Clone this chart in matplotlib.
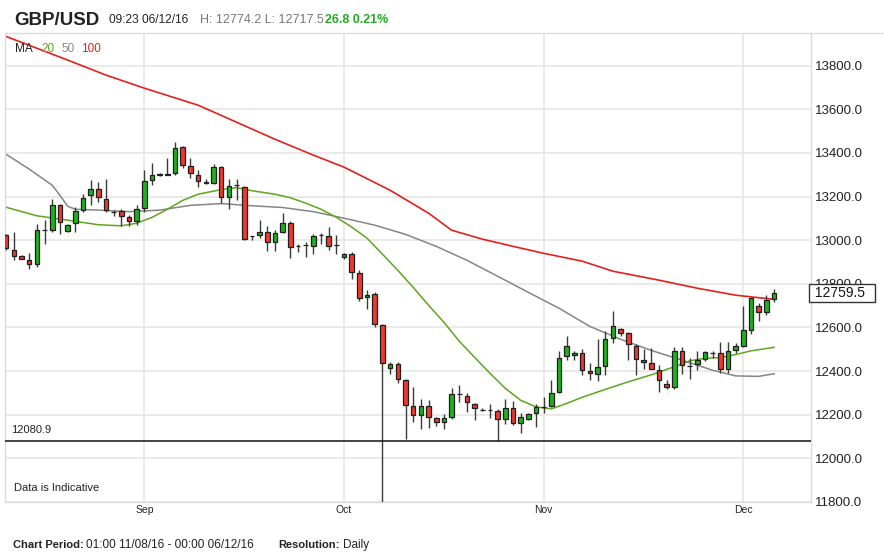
import matplotlib
matplotlib.use("Agg")
import matplotlib.pyplot as plt
import matplotlib.transforms as mtransforms
import numpy as np
import pandas as pd

plt.rcParams["font.family"] = ["Liberation Sans", "DejaVu Sans"]

# ---- data ---------------------------------------------------------------
# daily candles 11/08/16 .. 06/12/16 (Saturdays have no candle)
dates = [d for d in pd.date_range("2016-08-11", "2016-12-06") if d.dayofweek != 5]

opens = [13023, 12957, 12928, 12908, 12890, 13046, 13046, 13160, 13043, 13079,
         13137, 13206, 13233, 13188, 13131, 13133, 13107, 13087, 13150, 13278,
         13300, 13300, 13306, 13428, 13339, 13301, 13266, 13263, 13336, 13196,
         13252, 13244, 13020, 13026, 13038, 12992, 13038, 13079, 12975, 12976,
         12974, 13022, 13020, 12978, 12921, 12936, 12850, 12740, 12752, 12613,
         12414, 12434, 12358, 12240, 12200, 12238, 12185, 12167, 12189, 12293,
         12286, 12251, 12224, 12223, 12217, 12182, 12233, 12162, 12182, 12208,
         12234, 12238, 12304, 12469, 12472, 12485, 12399, 12389, 12422, 12554,
         12592, 12577, 12515, 12450, 12437, 12407, 12343, 12325, 12491, 12424,
         12431, 12454, 12482, 12483, 12411, 12495, 12515, 12587, 12698, 12671,
         12732.7]
highs = [13030, 13038, 12932, 12940, 13073, 13092, 13187, 13165, 13075, 13153,
         13214, 13275, 13265, 13280, 13140, 13142, 13115, 13160, 13321, 13355,
         13310, 13375, 13451, 13432, 13375, 13321, 13280, 13349, 13340, 13280,
         13280, 13250, 13021, 13092, 13064, 13049, 13124, 13087, 12981, 12990,
         13027, 13035, 13061, 13026, 12943, 12946, 12862, 12774, 12763, 12615,
         12442, 12442, 12366, 12327, 12274, 12266, 12190, 12205, 12324, 12335,
         12300, 12255, 12230, 12251, 12225, 12274, 12265, 12208, 12210, 12248,
         12281, 12358, 12492, 12560, 12490, 12500, 12437, 12545, 12584, 12674,
         12598, 12580, 12526, 12503, 12505, 12427, 12358, 12510, 12510, 12462,
         12492, 12492, 12494, 12533, 12533, 12530, 12697, 12737, 12710, 12748,
         12774.2]
lows = [12955, 12908, 12912, 12870, 12877, 12982, 13040, 13027, 13038, 13038,
        13130, 13160, 13174, 13130, 13110, 13064, 13064, 13069, 13130, 13255,
        13295, 13297, 13301, 13329, 13286, 13244, 13258, 13260, 13171, 13142,
        13183, 13000, 13000, 13012, 12950, 12950, 13032, 12919, 12946, 12921,
        12939, 12982, 12957, 12939, 12914, 12820, 12722, 12687, 12602, 11780,
        12389, 12347, 12090, 12167, 12136, 12140, 12147, 12136, 12182, 12258,
        12212, 12174, 12218, 12187, 12080.9, 12159, 12155, 12116, 12175, 12144,
        12208, 12235, 12300, 12453, 12450, 12380, 12361, 12355, 12381, 12529,
        12560, 12450, 12384, 12411, 12408, 12304, 12318, 12320, 12385, 12362,
        12404, 12445, 12460, 12391, 12391, 12485, 12510, 12572, 12628, 12659,
        12717.5]
closes = [12963, 12928, 12916, 12893, 13046, 13048, 13160, 13084, 13069, 13134,
          13195, 13233, 13196, 13137, 13129, 13111, 13087, 13145, 13272, 13298,
          13302, 13303, 13425, 13344, 13306, 13272, 13264, 13336, 13199, 13249,
          13254, 13005, 13020, 13038, 12992, 13033, 13079, 12969, 12973, 12978,
          13020, 13024, 12974, 12976, 12936, 12855, 12737, 12750, 12615, 12437,
          12434, 12366, 12246, 12200, 12240, 12189, 12167, 12186, 12294, 12295,
          12258, 12233, 12222, 12222, 12182, 12233, 12162, 12189, 12205, 12235,
          12236, 12301, 12462, 12515, 12485, 12404, 12391, 12417, 12549, 12607,
          12577, 12523, 12454, 12442, 12411, 12358, 12327, 12491, 12427, 12422,
          12450, 12488, 12484, 12411, 12491, 12514, 12587, 12733, 12671, 12725,
          12759.5]

# moving averages (candle index, value)
ma20_idx = [0, 4, 8, 12, 15, 17, 19, 21, 23, 25, 28, 30, 32, 35, 37, 39, 41, 43,
            45, 47, 49, 51, 53, 55, 57, 59, 61, 63, 65, 67, 69, 71, 73, 75, 78,
            81, 84, 87, 89, 91, 93, 95, 97, 100]
ma20_val = [13151, 13112, 13092, 13071, 13066, 13078, 13105, 13142, 13183, 13211,
            13232, 13241, 13227, 13211, 13195, 13170, 13142, 13105, 13060, 13009,
            12936, 12862, 12784, 12702, 12624, 12537, 12463, 12390, 12321, 12266,
            12236, 12227, 12252, 12280, 12316, 12351, 12383, 12420, 12447, 12459,
            12462, 12476, 12493, 12509]
ma50_idx = [0, 3, 6, 7, 8, 9, 12, 16, 20, 24, 28, 32, 36, 40, 44, 48, 52, 56,
            60, 64, 68, 72, 76, 80, 84, 88, 92, 95, 98, 100]
ma50_val = [13394, 13326, 13252, 13206, 13156, 13142, 13138, 13131, 13138, 13160,
            13168, 13158, 13150, 13131, 13101, 13069, 13027, 12972, 12908, 12835,
            12761, 12688, 12605, 12546, 12495, 12450, 12404, 12378, 12376, 12388]
ma100_idx = [0, 8, 13, 18, 25, 35, 40, 44, 50, 55, 58, 62, 66, 70, 75, 79, 85,
             90, 95, 100]
ma100_val = [13934, 13826, 13757, 13697, 13619, 13463, 13390, 13335, 13229, 13124,
             13046, 13005, 12972, 12940, 12904, 12858, 12817, 12780, 12748, 12729]

low_line = 12080.9
last_price = 12759.5
y_ticks = [11800, 12000, 12200, 12400, 12600, 12800, 13000, 13200, 13400, 13600, 13800]

# ---- figure -------------------------------------------------------------
W, H = 884, 559
fig = plt.figure(figsize=(W / 100, H / 100), dpi=100)
fig.patch.set_facecolor("white")


def px(x, y):
    return x / W, 1 - y / H


l, b = px(5, 502)
r, t = px(811, 33)
ax = fig.add_axes([l, b, r - l, t - b])

x = np.arange(len(dates))
month_pos = [i for i in range(1, len(dates)) if dates[i].month != dates[i - 1].month]
month_lab = [dates[i].strftime("%b") for i in month_pos]

GREEN = "#1db21d"
RED = "#f0382c"
opens_a, closes_a = np.array(opens), np.array(closes)
up = closes_a >= opens_a

ax.vlines(x, lows, highs, color="#3a3a3a", linewidth=1.0, zorder=3)
ax.bar(x, np.abs(closes_a - opens_a), bottom=np.minimum(opens_a, closes_a),
       width=0.6, color=np.where(up, GREEN, RED), edgecolor="#1e1e1e",
       linewidth=0.9, zorder=4)

ax.plot(ma100_idx, ma100_val, color="#e3201c", linewidth=1.2, zorder=2)
ax.plot(ma50_idx, ma50_val, color="#858585", linewidth=1.1, zorder=2)
ax.plot(ma20_idx, ma20_val, color="#5ea61e", linewidth=1.1, zorder=2)

ax.axhline(low_line, color="#111111", linewidth=1.1, zorder=5)
ax.text(0.7, low_line + 25, f"{low_line:.1f}", fontsize=8, color="#222222",
        va="bottom", ha="left")

ax.set_xlim(-0.15, 104.8)
ax.set_ylim(11800, 13950)
ax.set_yticks(y_ticks)
ax.set_yticklabels([f"{v:.1f}" for v in y_ticks])
ax.yaxis.tick_right()
ax.set_xticks(month_pos)
ax.set_xticklabels(month_lab)
ax.tick_params(axis="y", length=0, pad=3, labelsize=9.5, labelcolor="#222222")
ax.tick_params(axis="x", length=0, pad=2, labelsize=7.5, labelcolor="#222222")
ax.grid(True, color="#e6e6e6", linewidth=1.2, zorder=0)
ax.set_axisbelow(True)
for side, sp in ax.spines.items():
    sp.set_color("#dcdcdc")
    sp.set_linewidth(1.0)
ax.spines["top"].set_visible(False)

# last price box
trans = mtransforms.blended_transform_factory(ax.transAxes, ax.transData)
ax.text(1.0, last_price, f" {last_price:.1f}  ", transform=trans, fontsize=10,
        va="center", ha="left", color="#111111", zorder=10, clip_on=False,
        bbox=dict(boxstyle="square,pad=0.15", facecolor="white",
                  edgecolor="#333333", linewidth=1.0))

ax.text(0.011, 0.02, "Data is Indicative", transform=ax.transAxes, fontsize=8,
        color="#222222", va="bottom", ha="left")

# header
fig.add_artist(plt.Line2D([5 / W, 1], [1 - 33 / H] * 2, color="#dcdcdc",
                          linewidth=1.0, transform=fig.transFigure))
fig.text(*px(14, 25), "GBP/USD", fontsize=13.5, fontweight="bold", color="#222222")
fig.text(*px(109, 23), "09:23 06/12/16", fontsize=8.6, color="#222222")
fig.text(*px(200, 23), "H: 12774.2 L: 12717.5", fontsize=9, color="#777777")
fig.text(*px(325, 23), "26.8 0.21%", fontsize=9, fontweight="bold", color="#22aa22")

# MA legend
fig.text(*px(15, 52), "MA", fontsize=8.5, color="#222222")
fig.text(*px(41, 52), "20", fontsize=8.5, color="#5ea61e")
fig.text(*px(61, 52), "50", fontsize=8.5, color="#858585")
fig.text(*px(81, 52), "100", fontsize=8.5, color="#e3201c")

# footer
fig.text(*px(13, 548), "Chart Period:", fontsize=8, fontweight="bold", color="#222222")
fig.text(*px(86, 548), "01:00 11/08/16 - 00:00 06/12/16", fontsize=8.5, color="#222222")
fig.text(*px(278, 548), "Resolution:", fontsize=8, fontweight="bold", color="#222222")
fig.text(*px(343, 548), "Daily", fontsize=8.5, color="#222222")

fig.savefig("out.png", dpi=100)
